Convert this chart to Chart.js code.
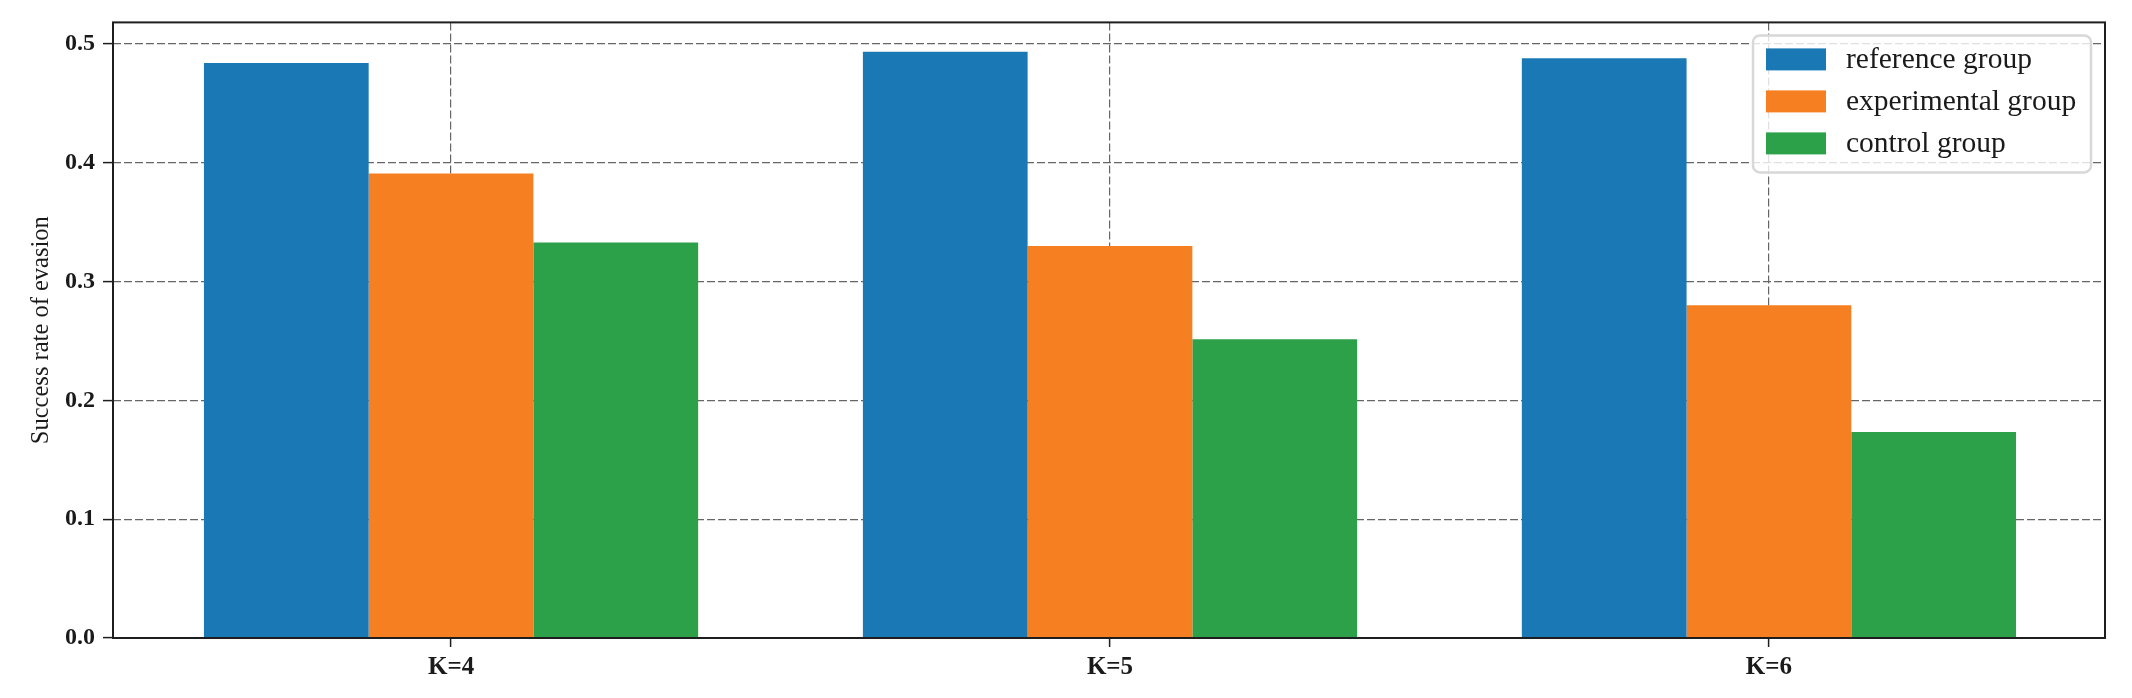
<!DOCTYPE HTML>
<html>
<head>
<title>Success rate of evasion</title>
<script src="https://cdn.jsdelivr.net/npm/chart.js@4.4.0/dist/chart.umd.min.js"></script>
<style>
  html, body { margin: 0; padding: 0; background: #fff; }
  #wrap { width: 2132px; height: 698px; }
</style>
</head>
<body>
<div id="wrap"><canvas id="Chart" width="2132" height="698"></canvas></div>
<script>
var cats = ["K=4", "K=5", "K=6"];
var reference = [0.484, 0.4935, 0.488];
var experimental = [0.391, 0.330, 0.280];
var control = [0.333, 0.2515, 0.1735];
var yTicks = [0.0, 0.1, 0.2, 0.3, 0.4, 0.5];

function pts(arr) {
    return arr.map(function (v, i) { return {x: i, y: v}; });
}

var serif = "'Liberation Serif', 'DejaVu Serif', serif";

// axes frame + legend box, matplotlib style
var frame = {
    id: "frame",
    afterDraw: function (chart) {
        var ctx = chart.ctx, a = chart.chartArea;
        ctx.save();
        ctx.strokeStyle = "#1e1e1e";
        ctx.lineWidth = 2;
        ctx.strokeRect(a.left, a.top, a.right - a.left, a.bottom - a.top);

        var bw = 338, bh = 137;
        var bx = a.right - 14 - bw, by = a.top + 13;
        ctx.beginPath();
        ctx.roundRect(bx, by, bw, bh, 7);
        ctx.fillStyle = "rgba(255,255,255,0.8)";
        ctx.fill();
        ctx.lineWidth = 2.5;
        ctx.strokeStyle = "#d8d8d8";
        ctx.stroke();

        ctx.font = "29.5px " + serif;
        ctx.textBaseline = "middle";
        chart.data.datasets.forEach(function (ds, i) {
            var cy = by + 24 + i * 42;
            ctx.fillStyle = ds.backgroundColor;
            ctx.fillRect(bx + 13, cy - 11, 60, 22);
            ctx.fillStyle = "#1a1a1a";
            ctx.fillText(ds.label, bx + 93, cy + 1);
        });
        ctx.restore();
    }
};

new Chart("Chart", {
    type: "bar",
    data: {
        datasets: [{
            label: "reference group",
            data: pts(reference),
            backgroundColor: "#1a78b4"
        }, {
            label: "experimental group",
            data: pts(experimental),
            backgroundColor: "#f57f21"
        }, {
            label: "control group",
            data: pts(control),
            backgroundColor: "#2ca14a"
        }]
    },
    options: {
        responsive: false,
        animation: false,
        layout: {padding: {left: 0, right: 27, top: 22, bottom: 0}},
        datasets: {bar: {categoryPercentage: 0.75, barPercentage: 1.0}},
        plugins: {legend: {display: false}, tooltip: {enabled: false}},
        scales: {
            x: {
                type: "linear",
                offset: false,
                min: -0.513,
                max: 2.51,
                afterBuildTicks: function (s) { s.ticks = cats.map(function (c, i) { return {value: i}; }); },
                afterFit: function (s) { s.height = 60; },
                ticks: {
                    callback: function (v) { return cats[v]; },
                    font: {family: serif, size: 25, weight: "bold"},
                    color: "#1a1a1a",
                    padding: 6,
                    maxRotation: 0
                },
                grid: {offset: false, color: "#666666", lineWidth: 1.2, tickLength: 9, tickColor: "#1e1e1e", tickWidth: 1.5},
                border: {display: false, dash: [8, 3]}
            },
            y: {
                min: 0,
                max: 0.5182,
                afterBuildTicks: function (s) { s.ticks = yTicks.map(function (v) { return {value: v}; }); },
                afterFit: function (s) { s.width = 113; },
                ticks: {
                    callback: function (v) { return v.toFixed(1); },
                    font: {family: serif, size: 24, weight: "bold"},
                    color: "#1a1a1a",
                    padding: 8
                },
                title: {
                    display: true,
                    text: "Success rate of evasion",
                    font: {family: serif, size: 24.5},
                    color: "#1a1a1a",
                    padding: {top: 27, bottom: 0}
                },
                grid: {color: "#666666", lineWidth: 1.2, tickLength: 10, tickColor: "#1e1e1e", tickWidth: 1.5},
                border: {display: false, dash: [8, 3]}
            }
        }
    },
    plugins: [frame]
});
</script>
</body>
</html>
